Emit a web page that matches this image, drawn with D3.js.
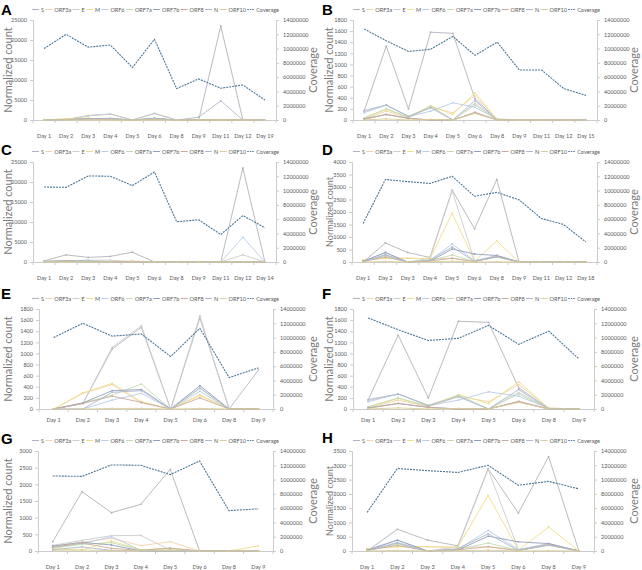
<!DOCTYPE html>
<html>
<head>
<meta charset="utf-8">
<script src="https://cdn.jsdelivr.net/npm/d3@7"></script>
<style>
body { margin: 0; background: #fff; }
svg text { font-family: Lato, "Liberation Sans", sans-serif; fill: #595959; }
</style>
</head>
<body>
<svg id="chart" width="642" height="570"></svg>
<script>
var seriesNames = ["S", "ORF3a", "E", "M", "ORF6", "ORF7a", "ORF7b", "ORF8", "N", "ORF10"]
var seriesColors = ["#b2b2bc", "#f2d3ac", "#cdcdcd", "#efdf88", "#b8cceb", "#c2dcb2", "#939fbd", "#c9ab9b", "#b0b9cb", "#dccc96"]
var coverageColor = "#4a7696"

// x categories
var daysA = ["Day 1", "Day 2", "Day 3", "Day 4", "Day 5", "Day 6", "Day 8", "Day 9", "Day 11", "Day 12", "Day 19"]
var daysB = ["Day 1", "Day 2", "Day 3", "Day 4", "Day 5", "Day 6", "Day 8", "Day 9", "Day 11", "Day 12", "Day 15"]
var daysC = ["Day 1", "Day 2", "Day 3", "Day 4", "Day 5", "Day 6", "Day 8", "Day 9", "Day 11", "Day 12", "Day 14"]
var daysD = ["Day 1", "Day 2", "Day 3", "Day 4", "Day 5", "Day 6", "Day 8", "Day 9", "Day 11", "Day 12", "Day 18"]

// normalized counts, one row per gene, in seriesNames order
var countsA = [
    [0, 100, 1080, 1470, 0, 1640, 0, 0, 23500, 0, 0],
    [0, 280, 440, 110, 0, 260, 0, 0, 0, 0, 0],
    [0, 100, 1110, 1500, 0, 1680, 0, 0, 0, 0, 0],
    [0, 290, 460, 130, 0, 240, 0, 0, 0, 0, 0],
    [0, 0, 160, 280, 0, 320, 0, 0, 0, 0, 0],
    [0, 110, 250, 450, 0, 370, 0, 0, 0, 0, 0],
    [0, 110, 330, 350, 0, 420, 0, 0, 0, 0, 0],
    [0, 100, 230, 120, 0, 200, 0, 0, 0, 0, 0],
    [0, 0, 300, 330, 0, 380, 0, 700, 4800, 0, 0],
    [0, 0, 10, 10, 0, 10, 0, 0, 0, 0, 0]
]
var countsB = [
    [160, 1330, 200, 1580, 1560, 380, 10, 0, 0, 0, 0],
    [20, 160, 40, 230, 130, 440, 20, 0, 0, 0, 0],
    [150, 270, 70, 240, 0, 300, 0, 0, 0, 0, 0],
    [30, 190, 50, 260, 100, 490, 10, 0, 0, 0, 0],
    [130, 270, 60, 160, 310, 230, 10, 0, 0, 0, 0],
    [40, 200, 50, 250, 0, 270, 0, 0, 0, 0, 0],
    [20, 100, 30, 0, 0, 130, 0, 0, 0, 0, 0],
    [10, 100, 30, 0, 0, 140, 0, 0, 0, 0, 0],
    [170, 270, 60, 220, 0, 350, 0, 0, 0, 0, 0],
    [0, 20, 0, 10, 0, 120, 0, 0, 0, 0, 0]
]
var countsC = [
    [280, 1780, 1150, 1400, 2450, 0, 0, 0, 0, 23500, 0],
    [130, 260, 380, 160, 280, 0, 0, 0, 0, 0, 0],
    [170, 320, 460, 470, 30, 0, 0, 0, 0, 1800, 0],
    [60, 30, 300, 40, 60, 0, 0, 150, 0, 0, 0],
    [100, 220, 430, 20, 10, 0, 0, 0, 0, 6200, 0],
    [80, 200, 250, 30, 80, 0, 0, 0, 0, 0, 0],
    [150, 260, 180, 0, 0, 0, 0, 0, 0, 0, 0],
    [110, 240, 80, 20, 90, 0, 0, 0, 0, 0, 0],
    [40, 120, 20, 10, 20, 0, 0, 0, 0, 0, 0],
    [20, 30, 10, 10, 10, 0, 0, 0, 0, 0, 0]
]
var countsD = [
    [0, 760, 380, 180, 2880, 1330, 3300, 0, 0, 0, 0],
    [80, 150, 150, 130, 150, 30, 200, 0, 0, 0, 0],
    [30, 380, 0, 150, 2850, 50, 250, 0, 0, 0, 0],
    [80, 150, 150, 130, 1950, 30, 840, 0, 0, 0, 0],
    [20, 300, 0, 60, 720, 50, 260, 0, 0, 0, 0],
    [10, 250, 0, 50, 280, 20, 200, 0, 0, 0, 0],
    [30, 380, 0, 30, 520, 320, 260, 0, 0, 0, 0],
    [20, 200, 0, 40, 150, 10, 230, 0, 0, 0, 0],
    [10, 280, 0, 80, 600, 20, 210, 0, 0, 0, 0],
    [0, 20, 0, 10, 30, 0, 10, 0, 0, 0, 0]
]

// sequencing coverage (reads)
var coverageA = [10000000, 12000000, 10200000, 10500000, 7350000, 11300000, 4400000, 5750000, 4450000, 4900000, 2800000]
var coverageB = [12750000, 11100000, 9600000, 9900000, 11700000, 9050000, 10900000, 7000000, 7000000, 4400000, 3450000]
var coverageC = [10500000, 10450000, 12050000, 12000000, 10700000, 12600000, 5650000, 5900000, 3850000, 6500000, 4800000]
var coverageD = [5400000, 11550000, 11250000, 11000000, 12000000, 9200000, 9750000, 8700000, 6100000, 5250000, 2800000]

var COVERAGE_MAX = 14000000

// E-H are the first eight days of A-D, rescaled
function firstDays(rows){ return rows.map(function(r){ return r.slice(0, 8) }) }

var panels = [
    {letter: "A", ox: 0,   oy: 0,   days: daysA, counts: countsA, coverage: coverageA, yMax: 25000, yStep: 5000, left: 33, right: 276, gap: 18, letterY: 15, titleSize: 11},
    {letter: "B", ox: 321, oy: 0,   days: daysB, counts: countsB, coverage: coverageB, yMax: 1800,  yStep: 200,  left: 32, right: 276, gap: 18, letterY: 15, titleSize: 11},
    {letter: "C", ox: 0,   oy: 142, days: daysC, counts: countsC, coverage: coverageC, yMax: 25000, yStep: 5000, left: 33, right: 276, gap: 18, letterY: 13, titleSize: 11},
    {letter: "D", ox: 321, oy: 142, days: daysD, counts: countsD, coverage: coverageD, yMax: 4000,  yStep: 500,  left: 31, right: 276, gap: 18, letterY: 13, titleSize: 9},
    {letter: "E", ox: 0,   oy: 289, days: daysA.slice(0, 8), counts: firstDays(countsA), coverage: coverageA.slice(0, 8), yMax: 1800, yStep: 200, left: 39, right: 273, gap: 13, letterY: 10, titleSize: 11},
    {letter: "F", ox: 321, oy: 289, days: daysB.slice(0, 8), counts: firstDays(countsB), coverage: coverageB.slice(0, 8), yMax: 1800, yStep: 200, left: 32, right: 273, gap: 13, letterY: 10, titleSize: 11},
    {letter: "G", ox: 0,   oy: 431, days: daysC.slice(0, 8), counts: firstDays(countsC), coverage: coverageC.slice(0, 8), yMax: 3000, yStep: 500, left: 38, right: 273, gap: 18, letterY: 13, titleSize: 11},
    {letter: "H", ox: 321, oy: 431, days: daysD.slice(0, 8), counts: firstDays(countsD), coverage: coverageD.slice(0, 8), yMax: 3500, yStep: 500, left: 31, right: 273, gap: 18, letterY: 12, titleSize: 9}
]

var svg = d3.select("#chart")
var plotTop = 20, plotBottom = 120

panels.forEach(drawPanel)

function drawPanel(p){
    var g = svg.append("g").attr("transform", "translate(" + p.ox + "," + p.oy + ")")

    var x = d3.scaleBand().domain(p.days).range([p.left, p.right])
    var y = d3.scaleLinear().domain([0, p.yMax]).range([plotBottom, plotTop])
    var y2 = d3.scaleLinear().domain([0, COVERAGE_MAX]).range([plotBottom, plotTop])
    var cx = function(d, i){ return x(p.days[i]) + x.bandwidth() / 2 }

    // panel letter
    g.append("text").attr("x", 1).attr("y", p.letterY)
        .style("font-family", "'Liberation Sans', Arial, sans-serif")
        .style("font-weight", "bold").style("font-size", "15px").style("fill", "#000")
        .text(p.letter)

    // axes
    var yAxis = d3.axisLeft(y).tickValues(d3.range(0, p.yMax + 1, p.yStep))
        .tickFormat(d3.format("d")).tickSize(3).tickPadding(3)
    var gy = g.append("g").attr("transform", "translate(" + p.left + ",0)").call(yAxis)
    var y2Axis = d3.axisRight(y2).tickValues(d3.range(0, COVERAGE_MAX + 1, 2000000))
        .tickFormat(d3.format("d")).tickSize(3).tickPadding(4)
    var gy2 = g.append("g").attr("transform", "translate(" + p.right + ",0)").call(y2Axis)
    var xAxis = d3.axisBottom(x).tickSize(0).tickPadding(p.gap - 4)
    var gx = g.append("g").attr("transform", "translate(0," + plotBottom + ")").call(xAxis)
    ;[gy, gy2, gx].forEach(function(a){
        a.selectAll("path").attr("stroke", "#cccccc")
        a.selectAll("line").attr("stroke", "#cccccc")
        a.selectAll("text").style("font-size", "5.5px").style("fill", "#595959")
            .style("font-family", "Lato, 'Liberation Sans', sans-serif")
    })
    // category boundary ticks like the spreadsheet
    var bounds = p.days.map(function(d){ return x(d) }).concat([p.right])
    gx.selectAll(".bound").data(bounds).enter().append("line")
        .attr("x1", function(d){ return d }).attr("x2", function(d){ return d })
        .attr("y1", 0).attr("y2", 3).attr("stroke", "#cccccc")

    // axis titles
    g.append("text").attr("transform", "translate(" + 12 + "," + ((plotTop + plotBottom) / 2) + ") rotate(-90)")
        .attr("text-anchor", "middle").style("font-size", p.titleSize + "px").style("fill", "#7a7a7a")
        .text("Normalized count")
    g.append("text").attr("transform", "translate(" + 317 + "," + ((plotTop + plotBottom) / 2) + ") rotate(-90)")
        .attr("text-anchor", "middle").style("font-size", "11px").style("fill", "#7a7a7a").text("Coverage")

    // gene lines
    var line = d3.line().x(cx).y(function(d){ return y(d) })
    p.counts.forEach(function(vals, k){
        g.append("path").datum(vals)
            .attr("fill", "none").attr("stroke", seriesColors[k]).attr("stroke-width", 0.9)
            .attr("d", line)
        g.selectAll(".m" + k).data(vals).enter().append("circle")
            .attr("cx", cx).attr("cy", function(d){ return y(d) }).attr("r", 0.9)
            .attr("fill", seriesColors[k])
    })

    // coverage line
    var covLine = d3.line().x(cx).y(function(d){ return y2(d) })
    g.append("path").datum(p.coverage)
        .attr("fill", "none").attr("stroke", coverageColor).attr("stroke-width", 1.1)
        .attr("stroke-dasharray", "2,1").attr("d", covLine)

    // legend
    var names = seriesNames.concat(["Coverage"])
    var colors = seriesColors.concat([coverageColor])
    var lg = g.append("g")
    var items = []
    names.forEach(function(n, i){
        var it = lg.append("g")
        it.append("line").attr("x1", 0).attr("x2", 7).attr("y1", 0).attr("y2", 0)
            .attr("stroke", colors[i]).attr("stroke-width", 1)
            .attr("stroke-dasharray", i == names.length - 1 ? "1.5,1" : null)
        var t = it.append("text").attr("x", 9).attr("y", 2).style("font-size", "5.5px").text(n)
        items.push({g: it, w: 9 + t.node().getComputedTextLength()})
    })
    var total = d3.sum(items, function(d){ return d.w })
    var gapW = (279 - 32 - total) / (items.length - 1)
    var pos = 32
    items.forEach(function(d){
        d.g.attr("transform", "translate(" + pos + ",9.5)")
        pos += d.w + gapW
    })
}
</script>
</body>
</html>
